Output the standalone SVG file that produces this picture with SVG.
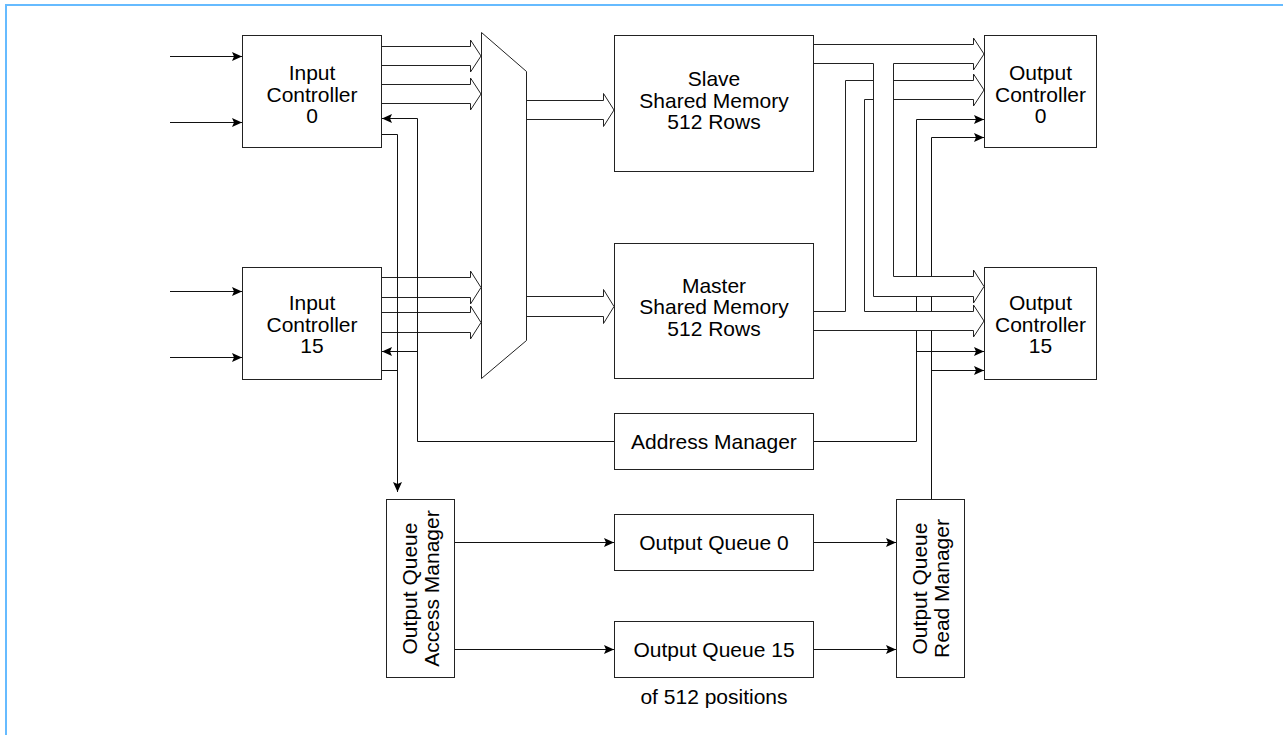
<svg xmlns="http://www.w3.org/2000/svg" width="1283" height="735" viewBox="0 0 1283 735">
  <defs>
    <style>
      .box { fill: #fff; stroke: #222; stroke-width: 1; }
      .mux { fill: #fff; stroke: #222; stroke-width: 1; }
      .bus { fill: #fff; stroke: #222; stroke-width: 1; stroke-linejoin: miter; }
      .wire { fill: none; stroke: #111; stroke-width: 1; }
      .lbl { font-family: "Liberation Sans", Arial, sans-serif; font-size: 21px; fill: #000; text-anchor: middle; }
    </style>
    <marker id="arrow" markerUnits="userSpaceOnUse" markerWidth="10" markerHeight="9" refX="10" refY="4.5" orient="auto">
      <path d="M0,0 L10,4.5 L0,9 L2,4.5 z" fill="#000"/>
    </marker>
  </defs>

  <rect width="1283" height="735" fill="#fff"/>
  <!-- frame -->
  <path d="M6,735 V5 H1283" fill="none" stroke="#66bbff" stroke-width="2"/>

  <!-- wide data buses (drawn beneath the control wires on the input side) -->
  <g id="buses-in">
    <polygon class="bus" points="381.5,46.5 470.5,46.5 470.5,40 481,56 470.5,72 470.5,65.5 381.5,65.5"/>
    <polygon class="bus" points="381.5,84.5 470.5,84.5 470.5,78 481,94 470.5,110 470.5,103.5 381.5,103.5"/>
    <polygon class="bus" points="381.5,277.5 470.5,277.5 470.5,271 481,287.5 470.5,304 470.5,297.5 381.5,297.5"/>
    <polygon class="bus" points="381.5,312.5 470.5,312.5 470.5,306 481,322.5 470.5,339 470.5,332.5 381.5,332.5"/>
    <polygon class="bus" points="526.5,100.5 603.5,100.5 603.5,93.5 614,110 603.5,126.5 603.5,119.5 526.5,119.5"/>
    <polygon class="bus" points="526.5,296.5 603.5,296.5 603.5,289.5 614,306.5 603.5,323.5 603.5,316.5 526.5,316.5"/>
  </g>

  <!-- connectors -->
  <g id="connectors">
    <!-- external inputs -->
    <path class="wire" d="M170,56.5 H242" marker-end="url(#arrow)"/>
    <path class="wire" d="M170,122.5 H242" marker-end="url(#arrow)"/>
    <path class="wire" d="M170,291.5 H242" marker-end="url(#arrow)"/>
    <path class="wire" d="M170,357.5 H242" marker-end="url(#arrow)"/>
    <!-- input controllers to output queue access manager -->
    <path class="wire" d="M381.5,134.5 H397.5 V492" marker-end="url(#arrow)"/>
    <path class="wire" d="M381.5,370.5 H397.5"/>
    <!-- address manager back to input controllers -->
    <path class="wire" d="M614.5,441.5 H417.5 V118.5 H382" marker-end="url(#arrow)"/>
    <path class="wire" d="M417.5,351.5 H382" marker-end="url(#arrow)"/>
    <!-- address manager to output controllers -->
    <path class="wire" d="M813.5,441.5 H916.5 V119.5 H984" marker-end="url(#arrow)"/>
    <path class="wire" d="M916.5,351.5 H984" marker-end="url(#arrow)"/>
    <!-- read manager to output controllers -->
    <path class="wire" d="M931.5,499.5 V137.5 H984" marker-end="url(#arrow)"/>
    <path class="wire" d="M931.5,370.5 H984" marker-end="url(#arrow)"/>
    <!-- queues -->
    <path class="wire" d="M454.5,542.5 H614" marker-end="url(#arrow)"/>
    <path class="wire" d="M454.5,649.5 H614" marker-end="url(#arrow)"/>
    <path class="wire" d="M813.5,542.5 H896" marker-end="url(#arrow)"/>
    <path class="wire" d="M813.5,649.5 H896" marker-end="url(#arrow)"/>
  </g>

  <!-- wide buses from shared memories to output controllers (cover the wires) -->
  <g id="buses-out">
    <polygon class="bus" points="813.5,311.5 845.5,311.5 845.5,80.5 973.5,80.5 973.5,74 984,90 973.5,106 973.5,99.5 864.5,99.5 864.5,311.5 973.5,311.5 973.5,305 984,321 973.5,337 973.5,330.5 813.5,330.5"/>
    <polygon class="bus" points="813.5,44.5 973.5,44.5 973.5,38 984,54 973.5,70 973.5,63.5 893.5,63.5 893.5,276.5 973.5,276.5 973.5,270 984,286.5 973.5,303 973.5,296.5 873.5,296.5 873.5,63.5 813.5,63.5"/>
  </g>

  <g id="input-controller-0">
    <rect class="box" x="242.5" y="35.5" width="139" height="112"/>
    <text class="lbl" x="312" y="80">Input</text>
    <text class="lbl" x="312" y="101.5">Controller</text>
    <text class="lbl" x="312" y="123">0</text>
  </g>
  <g id="input-controller-15">
    <rect class="box" x="242.5" y="267.5" width="139" height="112"/>
    <text class="lbl" x="312" y="310">Input</text>
    <text class="lbl" x="312" y="331.5">Controller</text>
    <text class="lbl" x="312" y="353">15</text>
  </g>
  <g id="crossbar-mux">
    <polygon class="mux" points="481.5,32.5 526.5,71.5 526.5,340.5 481.5,378.5"/>
  </g>
  <g id="slave-shared-memory">
    <rect class="box" x="614.5" y="35.5" width="199" height="136"/>
    <text class="lbl" x="714" y="86">Slave</text>
    <text class="lbl" x="714" y="107.5">Shared Memory</text>
    <text class="lbl" x="714" y="129">512 Rows</text>
  </g>
  <g id="master-shared-memory">
    <rect class="box" x="614.5" y="243.5" width="199" height="135"/>
    <text class="lbl" x="714" y="292.5">Master</text>
    <text class="lbl" x="714" y="314">Shared Memory</text>
    <text class="lbl" x="714" y="335.5">512 Rows</text>
  </g>
  <g id="output-controller-0">
    <rect class="box" x="984.5" y="35.5" width="112" height="112"/>
    <text class="lbl" x="1040.5" y="80">Output</text>
    <text class="lbl" x="1040.5" y="101.5">Controller</text>
    <text class="lbl" x="1040.5" y="123">0</text>
  </g>
  <g id="output-controller-15">
    <rect class="box" x="984.5" y="267.5" width="112" height="112"/>
    <text class="lbl" x="1040.5" y="310">Output</text>
    <text class="lbl" x="1040.5" y="331.5">Controller</text>
    <text class="lbl" x="1040.5" y="353">15</text>
  </g>
  <g id="address-manager">
    <rect class="box" x="614.5" y="413.5" width="199" height="56"/>
    <text class="lbl" x="714" y="449">Address Manager</text>
  </g>
  <g id="output-queue-access-manager">
    <rect class="box" x="386.5" y="499.5" width="68" height="178"/>
    <text class="lbl" transform="translate(420.5,588.5) rotate(-90)"><tspan x="0" y="-3.5">Output Queue</tspan><tspan x="0" y="18">Access Manager</tspan></text>
  </g>
  <g id="output-queue-0">
    <rect class="box" x="614.5" y="514.5" width="199" height="56"/>
    <text class="lbl" x="714" y="550">Output Queue 0</text>
  </g>
  <g id="output-queue-15">
    <rect class="box" x="614.5" y="621.5" width="199" height="56"/>
    <text class="lbl" x="714" y="657">Output Queue 15</text>
    <text class="lbl" x="714" y="704">of 512 positions</text>
  </g>
  <g id="output-queue-read-manager">
    <rect class="box" x="896.5" y="499.5" width="68" height="178"/>
    <text class="lbl" transform="translate(930.5,588.5) rotate(-90)"><tspan x="0" y="-3.5">Output Queue</tspan><tspan x="0" y="18">Read Manager</tspan></text>
  </g>
</svg>
